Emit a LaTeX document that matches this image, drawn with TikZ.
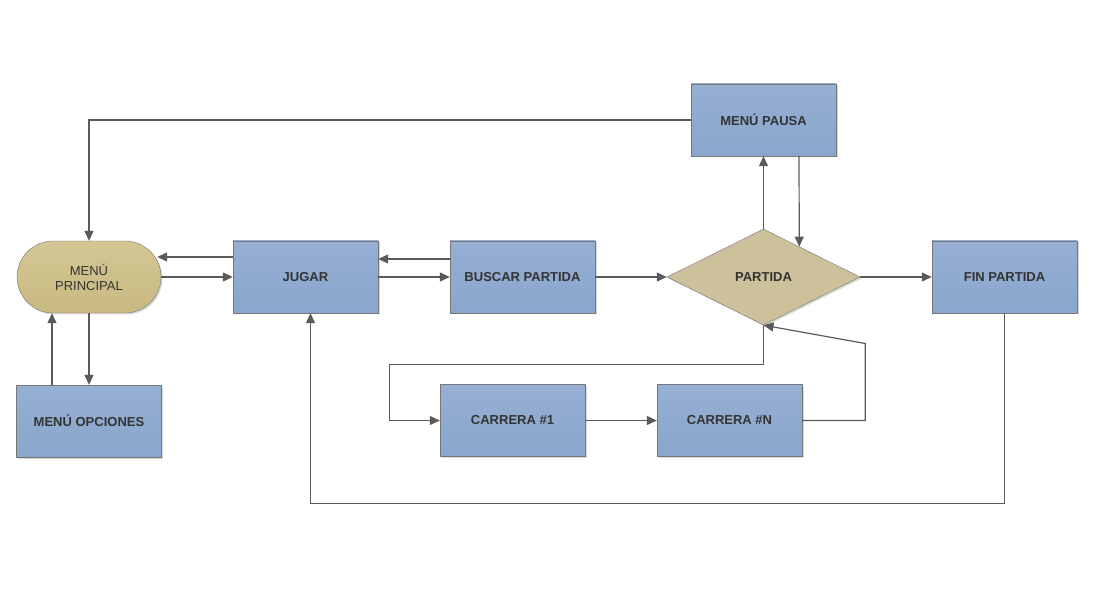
\documentclass[tikz,border=0pt]{standalone}
\usepackage{fontspec}
\setmainfont{Liberation Sans}
\usetikzlibrary{arrows.meta,shapes.geometric,shadows,calc}
\definecolor{boxtop}{HTML}{96AFD3}
\definecolor{boxbot}{HTML}{8AA6CC}
\definecolor{tantop}{HTML}{D4C795}
\definecolor{tanbot}{HTML}{C8B97F}
\definecolor{diafill}{HTML}{CDC19B}
\definecolor{edge}{HTML}{777777}
\definecolor{wire}{HTML}{5A5A5A}
\definecolor{ink}{HTML}{333333}

\begin{document}
\begin{tikzpicture}[x=1pt,y=-1pt,
  shade/.style={drop shadow={shadow xshift=1.5pt,shadow yshift=-1.5pt,opacity=0.3}},
  box/.style={rectangle,draw=edge,top color=boxtop,bottom color=boxbot,shade,
    minimum width=145pt,minimum height=72pt,inner sep=0pt,
    font=\fontsize{13}{15}\selectfont\bfseries,text=ink},
  startbox/.style={rectangle,rounded corners=36pt,draw=edge,top color=tantop,bottom color=tanbot,shade,
    minimum width=144pt,minimum height=72pt,inner sep=0pt,align=center,
    font=\fontsize{13}{15}\selectfont,text=ink},
  choice/.style={diamond,draw=edge,fill=diafill,shade,minimum width=193pt,minimum height=96pt,
    inner sep=0pt,font=\fontsize{13}{15}\selectfont\bfseries,text=ink},
  flow/.style={draw=wire,line width=1.2pt,-{Triangle[length=10pt,width=9pt]}}]
\useasboundingbox (0,0) rectangle (1112,596);
\node[startbox] (mp) at (89,277) {MENÚ\\PRINCIPAL};
\node[box] (jugar) at (305.5,277) {JUGAR};
\node[box] (buscar) at (522.5,277) {BUSCAR PARTIDA};
\node[choice] (partida) at (763.5,277) {PARTIDA};
\node[box] (fin) at (1004.5,277) {FIN PARTIDA};
\node[box] (pausa) at (763.5,120) {MENÚ PAUSA};
\node[box] (opciones) at (89,421) {MENÚ OPCIONES};
\node[box] (c1) at (512.5,420.5) {CARRERA \#1};
\node[box] (cn) at (729.5,420.5) {CARRERA \#N};
\draw[flow] (pausa.west) -| (mp.north);
\draw[flow] ([yshift=20pt]jugar.west) -- ([yshift=20pt,xshift=-4pt]mp.east);
\draw[flow] (mp.east) -- (jugar.west);
\draw[flow] ([yshift=18pt]buscar.west) -- ([yshift=18pt]jugar.east);
\draw[flow] (jugar.east) -- (buscar.west);
\draw[flow] (buscar.east) -- (partida.west);
\draw[flow] (partida.east) -- (fin.west);
\draw[flow] (partida.north) -- (partida.north |- pausa.south);
\draw[flow] ([xshift=35.5pt]pausa.south) -- ($(partida.north)!0.37!(partida.east)$);
\draw[flow] (mp.south) -- (mp.south |- opciones.north);
\draw[flow] ([xshift=-37pt]opciones.north) -- ([xshift=-37pt]mp.south);
\draw[flow] (partida.south) -- ++(0,39) -| ([xshift=-50pt]c1.west) -- (c1.west);
\draw[flow] (c1.east) -- (cn.east -| cn.west);
\draw[flow] (cn.east) -- ++(63,0) -- ++(0,-77) -- (partida.south);
\draw[flow] (fin.south) -- ++(0,190) -| ([xshift=5pt]jugar.south);
\end{tikzpicture}
\end{document}
